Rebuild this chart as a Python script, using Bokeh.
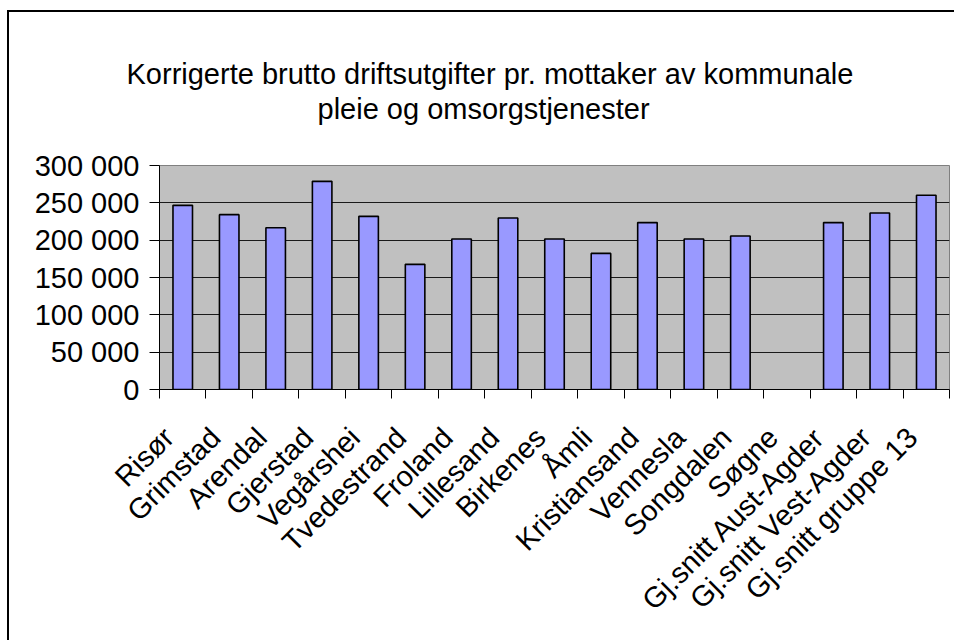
import math
from bokeh.plotting import figure
from bokeh.layouts import column
from bokeh.models import (Range1d, LinearAxis, FixedTicker, ColumnDataSource, Title)
from bokeh.embed import file_html
from bokeh.resources import INLINE

# ---- data -------------------------------------------------------------
categories = ["Risør", "Grimstad", "Arendal", "Gjerstad", "Vegårshei",
              "Tvedestrand", "Froland", "Lillesand", "Birkenes", "Åmli",
              "Kristiansand", "Vennesla", "Songdalen", "Søgne",
              "Gj.snitt Aust-Agder", "Gj.snitt Vest-Agder", "Gj.snitt gruppe 13"]
values = [246600, 234200, 216700, 278800, 231900,
          167600, 201500, 229600, 201500, 182300,
          223500, 201500, 205500, None,
          223500, 236400, 260100]
y_ticks = [0, 50000, 100000, 150000, 200000, 250000, 300000]
y_tick_labels = ["0", "50 000", "100 000", "150 000", "200 000", "250 000", "300 000"]
title_lines = ["Korrigerte brutto driftsutgifter pr. mottaker av kommunale",
               "pleie og omsorgstjenester"]

FONT = "Liberation Sans"
W = 945
TH = 120            # height of the title strip
PH = 508            # height of the chart part

# ---- title strip (titles are not clipped) --------------------------------
t = figure(width=W, height=TH, x_range=Range1d(0, 1), y_range=Range1d(0, 1),
           output_backend="svg", toolbar_location=None,
           x_axis_location=None, y_axis_location=None,
           min_border_left=150, min_border_right=5, min_border_top=113,
           min_border_bottom=0, outline_line_color=None,
           background_fill_color="white", border_fill_color="white")
t.title = None
t.xgrid.visible = False
t.ygrid.visible = False
# second line first: it sits nearest the strip's frame
for line, off, so in [(title_lines[1], 158, 2), (title_lines[0], -33, 0)]:
    t.add_layout(Title(text=line, align="left", offset=off, standoff=so,
                       text_font=FONT, text_font_size="29px",
                       text_font_style="normal", text_color="black"), "above")

# ---- chart --------------------------------------------------------------
n = len(categories)
centers = [i + 0.5 for i in range(n)]
bounds = list(range(n + 1))
label_shift = -0.3           # rotated labels end slightly left of the bar centre
label_pos = [c + label_shift for c in centers]

src = ColumnDataSource(dict(
    x=[c for c, v in zip(centers, values) if v is not None],
    top=[v for v in values if v is not None],
    name=[c for c, v in zip(categories, values) if v is not None],
))

p = figure(x_range=Range1d(0, n), y_range=Range1d(y_ticks[0], y_ticks[-1]),
           width=W, height=PH, output_backend="svg", toolbar_location=None,
           x_axis_location=None, y_axis_location=None,
           min_border_left=150, min_border_right=5, min_border_top=33,
           min_border_bottom=251,
           background_fill_color="#C0C0C0", border_fill_color="white",
           outline_line_color="#808080", outline_line_width=1)
p.title = None

p.vbar(x="x", top="top", width=0.42, source=src, fill_color="#9999FF",
       line_color="black", line_width=1.6)

# y axis
yax = LinearAxis(ticker=FixedTicker(ticks=y_ticks),
                 major_label_overrides={t_: l for t_, l in zip(y_ticks, y_tick_labels)})
yax.major_tick_out = 10
yax.major_tick_in = 0
yax.minor_tick_out = 0
yax.minor_tick_in = 0
yax.axis_line_color = "black"
yax.major_tick_line_color = "black"
yax.major_label_standoff = 10
yax.major_label_text_font = FONT
yax.major_label_text_font_size = "29px"
yax.major_label_text_color = "black"
p.add_layout(yax, "left")

# x axis: tick marks at category boundaries, rotated category labels
xax = LinearAxis(ticker=FixedTicker(ticks=label_pos, minor_ticks=bounds),
                 major_label_overrides={c: name for c, name in zip(label_pos, categories)})
xax.major_tick_out = 0
xax.major_tick_in = 0
xax.minor_tick_out = 9
xax.minor_tick_in = 0
xax.minor_tick_line_color = "black"
xax.axis_line_color = "black"
xax.major_label_orientation = math.pi / 4
xax.major_label_standoff = 34
xax.major_label_text_font = FONT
xax.major_label_text_font_size = "29px"
xax.major_label_text_color = "black"
p.add_layout(xax, "below")

p.xgrid.visible = False
p.ygrid.ticker = FixedTicker(ticks=y_ticks)
p.ygrid.grid_line_color = "#1a1a1a"
p.ygrid.grid_line_width = 1

layout = column(t, p, spacing=0)
layout.styles = {"border-left": "2px solid #000", "border-top": "2px solid #000",
                 "margin-left": "7px", "margin-top": "10px", "margin-bottom": "-60px"}

open("out.html", "w").write(file_html(layout, INLINE))
